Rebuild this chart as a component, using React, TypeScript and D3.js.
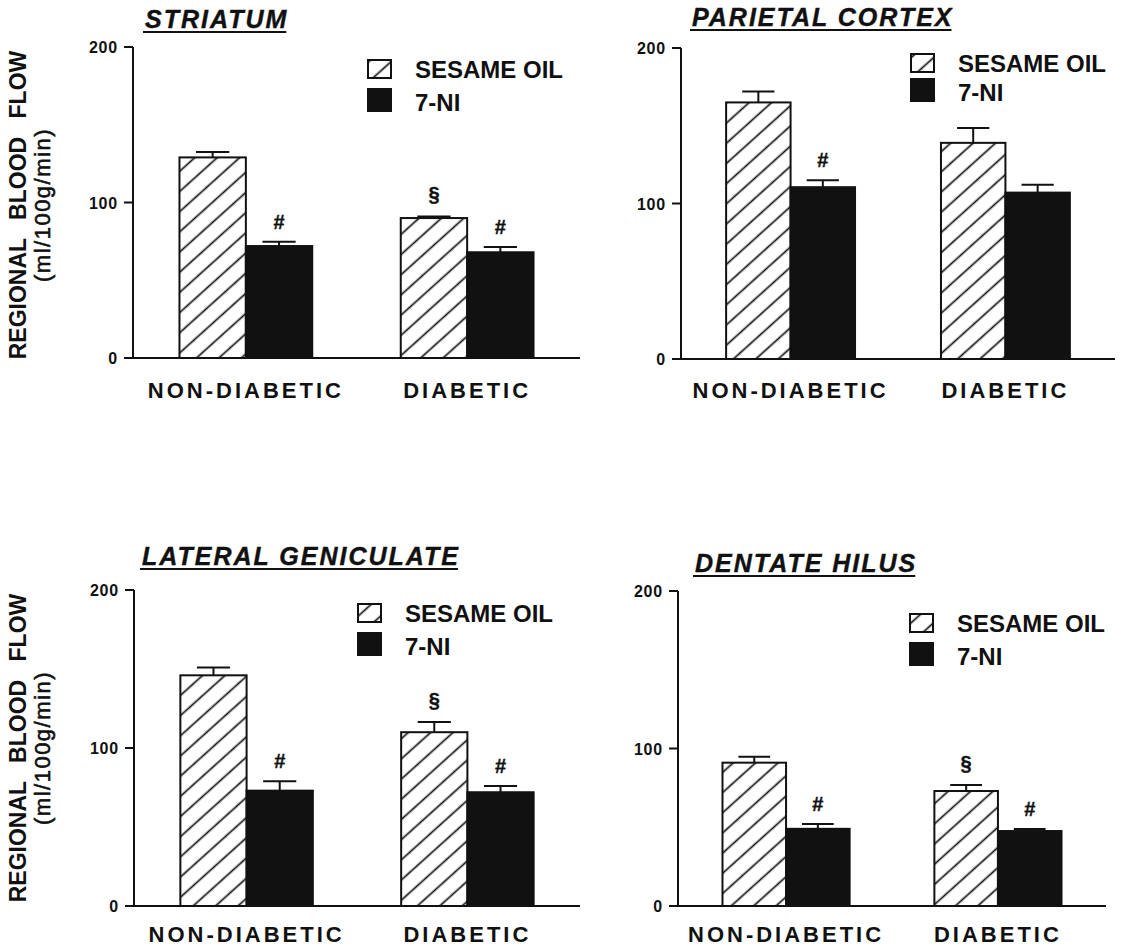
import React, { useEffect, useRef } from 'react';
import * as d3 from 'd3';

// categories
const groups = ['NON-DIABETIC', 'DIABETIC'];
const treatments = ['SESAME OIL', '7-NI'];
const regions = ['STRIATUM', 'PARIETAL CORTEX', 'LATERAL GENICULATE', 'DENTATE HILUS'];
const yTicks = [0, 100, 200];

// values per region: [non-diabetic, diabetic]
const sesameMean = [[129, 90], [165, 139], [146, 110], [91, 73]];
const sesameSem = [[3.5, 1], [7, 9.5], [5, 6.5], [3.8, 3.8]];
const niMean = [[72, 68], [110.5, 107], [73, 72], [49, 47.6]];
const niSem = [[2.8, 3.4], [4.5, 5], [6, 4], [3, 1.3]];

// significance marks
const sesameMarks = [['', '§'], ['', ''], ['', '§'], ['', '§']];
const niMarks = [['#', '#'], ['#', ''], ['#', '#'], ['#', '#']];

const FONT = "'Liberation Sans', Arial, Helvetica, sans-serif";

const layout = [
  { x0: 133, x1: 580, yTop: 47, yBot: 358, titleX: 145, titleY: 28, legX: 415, legY: [78, 111], catY: 398, ylabel: 205 },
  { x0: 681, x1: 1115, yTop: 48, yBot: 359, titleX: 692, titleY: 26, legX: 958, legY: [72, 101], catY: 398, ylabel: 0 },
  { x0: 134, x1: 580, yTop: 590, yBot: 906, titleX: 142, titleY: 565, legX: 405, legY: [622, 655], catY: 942, ylabel: 748 },
  { x0: 678, x1: 1106, yTop: 591, yBot: 906, titleX: 695, titleY: 572, legX: 957, legY: [632, 665], catY: 942, ylabel: 0 },
];

const App: React.FC = () => {
  const svgRef = useRef<SVGSVGElement>(null);

  useEffect(() => {
    if (!svgRef.current) return;
    const svg = d3.select(svgRef.current);
    svg.selectAll('*').remove();

    svg.append('rect').attr('width', 1136).attr('height', 950).attr('fill', '#fff');

    const defs = svg.append('defs');
    const pat = defs
      .append('pattern')
      .attr('id', 'hatch')
      .attr('patternUnits', 'userSpaceOnUse')
      .attr('width', 15)
      .attr('height', 15)
      .attr('patternTransform', 'rotate(48)');
    pat.append('rect').attr('width', 15).attr('height', 15).attr('fill', '#fff');
    pat.append('line')
      .attr('x1', 7.5).attr('x2', 7.5).attr('y1', 0).attr('y2', 15)
      .attr('stroke', '#111').attr('stroke-width', 1.7);

    const fills = ['url(#hatch)', '#111'];

    regions.forEach((region, r) => {
      const L = layout[r];
      const g = svg.append('g');

      const x = d3.scaleBand<string>()
        .domain(groups)
        .range([L.x0, L.x1])
        .paddingInner(0.4)
        .paddingOuter(0.21);
      const xs = d3.scaleBand<string>()
        .domain(treatments)
        .range([0, x.bandwidth()])
        .padding(0);
      const y = d3.scaleLinear().domain([0, 200]).range([L.yBot, L.yTop]);

      // title
      const title = g.append('text')
        .attr('x', L.titleX)
        .attr('y', L.titleY)
        .attr('font-family', FONT)
        .attr('font-size', 25)
        .attr('font-weight', 'bold')
        .attr('font-style', 'italic')
        .attr('letter-spacing', 2)
        .attr('fill', '#111')
        .attr('stroke', '#111')
        .attr('stroke-width', 0.4)
        .text(region);
      const tl = (title.node() as SVGTextElement).getComputedTextLength();
      g.append('line')
        .attr('x1', L.titleX - 2).attr('x2', L.titleX + tl - 2)
        .attr('y1', L.titleY + 4).attr('y2', L.titleY + 4)
        .attr('stroke', '#111').attr('stroke-width', 2);

      // y axis
      g.append('line')
        .attr('x1', L.x0).attr('x2', L.x0)
        .attr('y1', y(200)).attr('y2', y(0))
        .attr('stroke', '#111').attr('stroke-width', 2);
      yTicks.forEach(t => {
        g.append('line')
          .attr('x1', L.x0 - 9).attr('x2', L.x0)
          .attr('y1', y(t)).attr('y2', y(t))
          .attr('stroke', '#111').attr('stroke-width', 2);
        g.append('text')
          .attr('x', L.x0 - 15)
          .attr('y', y(t) + 6)
          .attr('text-anchor', 'end')
          .attr('font-family', FONT)
          .attr('font-size', 16)
          .attr('font-weight', 'bold')
          .attr('letter-spacing', 0.8)
          .attr('fill', '#111')
          .text(String(t));
      });
      // x axis
      g.append('line')
        .attr('x1', L.x0 - 9).attr('x2', L.x1)
        .attr('y1', y(0)).attr('y2', y(0))
        .attr('stroke', '#111').attr('stroke-width', 2);

      // bars
      const means = [sesameMean[r], niMean[r]];
      const sems = [sesameSem[r], niSem[r]];
      const marks = [sesameMarks[r], niMarks[r]];
      groups.forEach((grp, gi) => {
        treatments.forEach((tr, ti) => {
          const bx = (x(grp) as number) + (xs(tr) as number);
          const bw = xs.bandwidth();
          const v = means[ti][gi];
          const top = v + sems[ti][gi];
          g.append('rect')
            .attr('x', bx)
            .attr('y', y(v))
            .attr('width', bw)
            .attr('height', y(0) - y(v))
            .attr('fill', fills[ti])
            .attr('stroke', '#111')
            .attr('stroke-width', 2);
          const cx = bx + bw / 2;
          g.append('line')
            .attr('x1', cx).attr('x2', cx)
            .attr('y1', y(v)).attr('y2', y(top))
            .attr('stroke', '#111').attr('stroke-width', 2);
          g.append('line')
            .attr('x1', cx - bw / 4).attr('x2', cx + bw / 4)
            .attr('y1', y(top)).attr('y2', y(top))
            .attr('stroke', '#111').attr('stroke-width', 2);
          const m = marks[ti][gi];
          if (m) {
            g.append('text')
              .attr('x', cx)
              .attr('y', y(top) - (m === '§' ? 15 : 13))
              .attr('text-anchor', 'middle')
              .attr('font-family', FONT)
              .attr('font-size', 20)
              .attr('font-weight', 'bold')
              .attr('fill', '#111')
              .attr('stroke', '#111')
              .attr('stroke-width', 0.4)
              .text(m);
          }
        });
        // category label
        g.append('text')
          .attr('x', (x(grp) as number) + x.bandwidth() / 2)
          .attr('y', L.catY)
          .attr('text-anchor', 'middle')
          .attr('font-family', FONT)
          .attr('font-size', 22)
          .attr('font-weight', 'bold')
          .attr('letter-spacing', 3)
          .attr('fill', '#111')
          .text(grp);
      });

      // legend
      treatments.forEach((tr, ti) => {
        const by = L.legY[ti];
        const h = ti === 0 ? 18 : 22;
        g.append('rect')
          .attr('x', L.legX - 47)
          .attr('y', by - h)
          .attr('width', 23)
          .attr('height', h)
          .attr('fill', fills[ti])
          .attr('stroke', '#111')
          .attr('stroke-width', 2);
        g.append('text')
          .attr('x', L.legX)
          .attr('y', by)
          .attr('font-family', FONT)
          .attr('font-size', 24)
          .attr('font-weight', 'bold')
          .attr('fill', '#111')
          .text(tr);
      });

      // y label
      if (L.ylabel) {
        g.append('text')
          .attr('transform', `translate(26,${L.ylabel}) rotate(-90)`)
          .attr('text-anchor', 'middle')
          .attr('font-family', FONT)
          .attr('font-size', 23)
          .attr('font-weight', 'bold')
          .attr('word-spacing', 12)
          .attr('fill', '#111')
          .text('REGIONAL BLOOD FLOW');
        g.append('text')
          .attr('transform', `translate(50,${L.ylabel}) rotate(-90)`)
          .attr('text-anchor', 'middle')
          .attr('font-family', FONT)
          .attr('font-size', 22)
          .attr('letter-spacing', 1.5)
          .attr('fill', '#111')
          .attr('stroke', '#111')
          .attr('stroke-width', 0.6)
          .text('(ml/100g/min)');
      }
    });
  }, []);

  return (
    <svg
      ref={svgRef}
      width={1136}
      height={950}
      style={{ position: 'absolute', left: 0, top: 0 }}
    />
  );
};

export default App;
